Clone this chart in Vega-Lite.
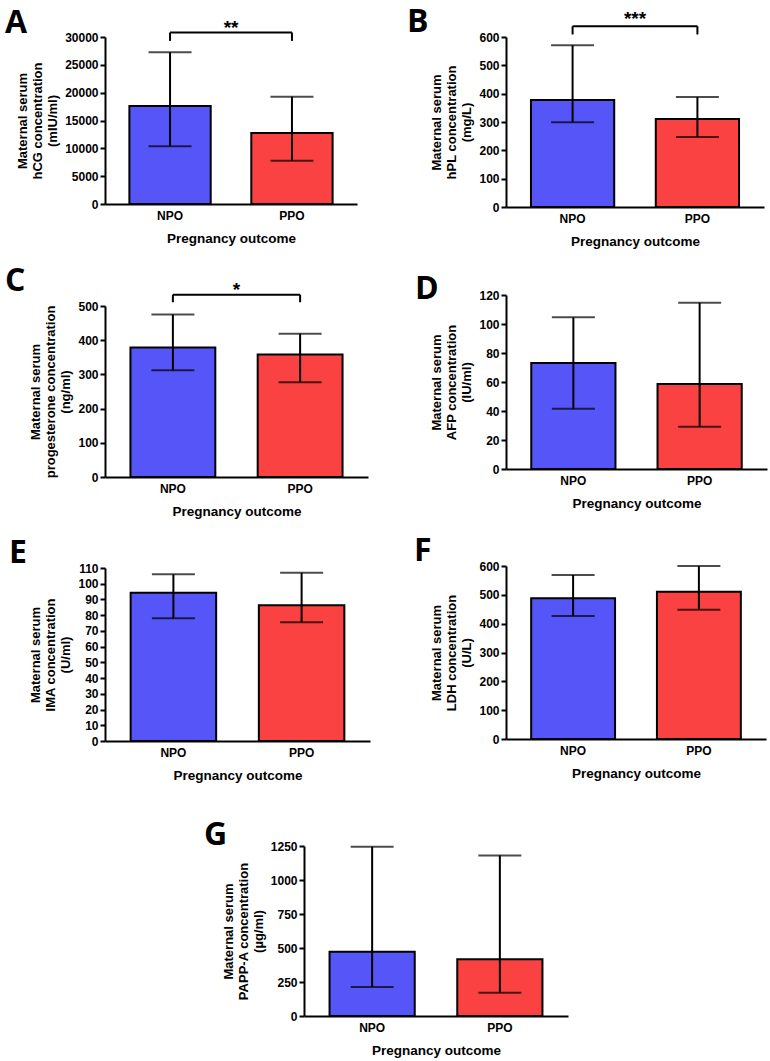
{
  "$schema": "https://vega.github.io/schema/vega-lite/v6.json",
  "background": "white",
  "padding": {"left": 5, "top": 6, "right": 2, "bottom": 2},
  "datasets": {
    "bars": [
      {"panel": "A", "group": "NPO", "mean": 17600, "lo": 10360, "hi": 27250},
      {"panel": "A", "group": "PPO", "mean": 12750, "lo": 7780, "hi": 19280},
      {"panel": "B", "group": "NPO", "mean": 378, "lo": 299, "hi": 571},
      {"panel": "B", "group": "PPO", "mean": 311, "lo": 247, "hi": 388},
      {"panel": "C", "group": "NPO", "mean": 379, "lo": 312, "hi": 475},
      {"panel": "C", "group": "PPO", "mean": 358, "lo": 277, "hi": 419},
      {"panel": "D", "group": "NPO", "mean": 73.1, "lo": 41.6, "hi": 104.6},
      {"panel": "D", "group": "PPO", "mean": 58.6, "lo": 29.2, "hi": 114.7},
      {"panel": "E", "group": "NPO", "mean": 94.3, "lo": 78, "hi": 106},
      {"panel": "E", "group": "PPO", "mean": 86.3, "lo": 75.5, "hi": 107},
      {"panel": "F", "group": "NPO", "mean": 488, "lo": 427, "hi": 569},
      {"panel": "F", "group": "PPO", "mean": 511, "lo": 448, "hi": 600},
      {"panel": "G", "group": "NPO", "mean": 473, "lo": 213, "hi": 1245},
      {"panel": "G", "group": "PPO", "mean": 417, "lo": 171, "hi": 1181}
    ],
    "brackets": [
      {"panel": "A", "from": "NPO", "to": "PPO", "top": 30800, "bottom": 29300, "label": "**"},
      {"panel": "B", "from": "NPO", "to": "PPO", "top": 638, "bottom": 609, "label": "***"},
      {"panel": "C", "from": "NPO", "to": "PPO", "top": 533, "bottom": 511, "label": "*"}
    ]
  },
  "config": {
    "font": "Liberation Sans",
    "view": {"stroke": null},
    "axis": {
      "grid": false,
      "domainColor": "black",
      "domainWidth": 2,
      "tickColor": "black",
      "tickWidth": 2,
      "tickSize": 5,
      "labelFont": "Liberation Sans",
      "labelFontWeight": "bold",
      "labelFontSize": 12,
      "labelColor": "black",
      "titleFont": "Liberation Sans",
      "titleFontWeight": "bold",
      "titleFontSize": 13,
      "titleColor": "black",
      "titleLineHeight": 15
    },
    "axisX": {"labelAngle": 0, "ticks": false, "labelPadding": 6, "titlePadding": 10, "titleFontSize": 13.5},
    "axisY": {"labelPadding": 2, "titlePadding": 5, "labelOverlap": false},
    "title": {"anchor": "start", "frame": "group", "font": "Open Sans", "fontSize": 32, "fontWeight": "bold", "color": "black"}
  },
  "vconcat": [
    {
      "hconcat": [
        {
          "vconcat": [
            {
              "title": {"text": "A", "dx": -100, "offset": -21},
              "width": 252, "height": 167,
              "layer": [
                {"data": {"name": "bars"}, "transform": [{"filter": "datum.panel==='A'"}],
                 "mark": {"type": "bar", "stroke": "black", "strokeWidth": 2},
                 "encoding": {
                   "x": {"field": "group", "type": "nominal", "scale": {"domain": ["NPO", "PPO"], "paddingInner": 0.333, "paddingOuter": 0.2}, "axis": {"title": "Pregnancy outcome"}},
                   "y": {"field": "mean", "type": "quantitative", "scale": {"domain": [0, 30000], "nice": false}, "axis": {"title": ["Maternal serum", "hCG concentration", "(mIU/ml)"], "values": [0, 5000, 10000, 15000, 20000, 25000, 30000], "format": "d", "labelOverlap": false}},
                   "color": {"field": "group", "type": "nominal", "scale": {"domain": ["NPO", "PPO"], "range": ["#5656F8", "#FA4242"]}, "legend": null}
                 }},
                {"data": {"name": "bars"}, "transform": [{"filter": "datum.panel==='A'"}],
                 "mark": {"type": "rule", "strokeWidth": 2, "color": "black"},
                 "encoding": {"x": {"field": "group", "type": "nominal"}, "y": {"field": "lo", "type": "quantitative", "axis": {"title": ["Maternal serum", "hCG concentration", "(mIU/ml)"], "values": [0, 5000, 10000, 15000, 20000, 25000, 30000], "format": "d", "labelOverlap": false}}, "y2": {"field": "hi"}}},
                {"data": {"name": "bars"}, "transform": [{"filter": "datum.panel==='A'"}],
                 "mark": {"type": "tick", "size": 43, "thickness": 2, "color": "black"},
                 "encoding": {"x": {"field": "group", "type": "nominal"}, "y": {"field": "lo", "type": "quantitative", "axis": {"title": ["Maternal serum", "hCG concentration", "(mIU/ml)"], "values": [0, 5000, 10000, 15000, 20000, 25000, 30000], "format": "d", "labelOverlap": false}}}},
                {"data": {"name": "bars"}, "transform": [{"filter": "datum.panel==='A'"}],
                 "mark": {"type": "tick", "size": 43, "thickness": 2, "color": "black"},
                 "encoding": {"x": {"field": "group", "type": "nominal"}, "y": {"field": "hi", "type": "quantitative", "axis": {"title": ["Maternal serum", "hCG concentration", "(mIU/ml)"], "values": [0, 5000, 10000, 15000, 20000, 25000, 30000], "format": "d", "labelOverlap": false}}}},
                {"data": {"name": "brackets"}, "transform": [{"filter": "datum.panel==='A'"}],
                 "mark": {"type": "rule", "strokeWidth": 2, "color": "black"},
                 "encoding": {"x": {"field": "from", "type": "nominal"}, "x2": {"field": "to"}, "y": {"field": "top", "type": "quantitative", "axis": {"title": ["Maternal serum", "hCG concentration", "(mIU/ml)"], "values": [0, 5000, 10000, 15000, 20000, 25000, 30000], "format": "d", "labelOverlap": false}}}},
                {"data": {"name": "brackets"}, "transform": [{"filter": "datum.panel==='A'"}],
                 "mark": {"type": "rule", "strokeWidth": 2, "color": "black"},
                 "encoding": {"x": {"field": "from", "type": "nominal"}, "y": {"field": "top", "type": "quantitative", "axis": {"title": ["Maternal serum", "hCG concentration", "(mIU/ml)"], "values": [0, 5000, 10000, 15000, 20000, 25000, 30000], "format": "d", "labelOverlap": false}}, "y2": {"field": "bottom"}}},
                {"data": {"name": "brackets"}, "transform": [{"filter": "datum.panel==='A'"}],
                 "mark": {"type": "rule", "strokeWidth": 2, "color": "black"},
                 "encoding": {"x": {"field": "to", "type": "nominal"}, "y": {"field": "top", "type": "quantitative", "axis": {"title": ["Maternal serum", "hCG concentration", "(mIU/ml)"], "values": [0, 5000, 10000, 15000, 20000, 25000, 30000], "format": "d", "labelOverlap": false}}, "y2": {"field": "bottom"}}},
                {"data": {"name": "brackets"}, "transform": [{"filter": "datum.panel==='A'"}],
                 "mark": {"type": "text", "baseline": "alphabetic", "fontSize": 19, "fontWeight": "bold", "font": "Liberation Sans", "color": "black", "dy": 1},
                 "encoding": {"x": {"field": "from", "type": "nominal", "bandPosition": 1.25}, "y": {"field": "top", "type": "quantitative", "axis": {"title": ["Maternal serum", "hCG concentration", "(mIU/ml)"], "values": [0, 5000, 10000, 15000, 20000, 25000, 30000], "format": "d", "labelOverlap": false}}, "text": {"field": "label"}}}
              ]
            },
            {
              "title": {"text": "C", "dx": -100, "offset": -17},
              "width": 263, "height": 171,
              "layer": [
                {"data": {"name": "bars"}, "transform": [{"filter": "datum.panel==='C'"}],
                 "mark": {"type": "bar", "stroke": "black", "strokeWidth": 2},
                 "encoding": {
                   "x": {"field": "group", "type": "nominal", "scale": {"domain": ["NPO", "PPO"], "paddingInner": 0.333, "paddingOuter": 0.2}, "axis": {"title": "Pregnancy outcome"}},
                   "y": {"field": "mean", "type": "quantitative", "scale": {"domain": [0, 500], "nice": false}, "axis": {"title": ["Maternal serum", "progesterone concentration", "(ng/ml)"], "values": [0, 100, 200, 300, 400, 500], "labelOverlap": false}},
                   "color": {"field": "group", "type": "nominal", "scale": {"domain": ["NPO", "PPO"], "range": ["#5656F8", "#FA4242"]}, "legend": null}
                 }},
                {"data": {"name": "bars"}, "transform": [{"filter": "datum.panel==='C'"}],
                 "mark": {"type": "rule", "strokeWidth": 2, "color": "black"},
                 "encoding": {"x": {"field": "group", "type": "nominal"}, "y": {"field": "lo", "type": "quantitative", "axis": {"title": ["Maternal serum", "progesterone concentration", "(ng/ml)"], "values": [0, 100, 200, 300, 400, 500], "labelOverlap": false}}, "y2": {"field": "hi"}}},
                {"data": {"name": "bars"}, "transform": [{"filter": "datum.panel==='C'"}],
                 "mark": {"type": "tick", "size": 43, "thickness": 2, "color": "black"},
                 "encoding": {"x": {"field": "group", "type": "nominal"}, "y": {"field": "lo", "type": "quantitative", "axis": {"title": ["Maternal serum", "progesterone concentration", "(ng/ml)"], "values": [0, 100, 200, 300, 400, 500], "labelOverlap": false}}}},
                {"data": {"name": "bars"}, "transform": [{"filter": "datum.panel==='C'"}],
                 "mark": {"type": "tick", "size": 43, "thickness": 2, "color": "black"},
                 "encoding": {"x": {"field": "group", "type": "nominal"}, "y": {"field": "hi", "type": "quantitative", "axis": {"title": ["Maternal serum", "progesterone concentration", "(ng/ml)"], "values": [0, 100, 200, 300, 400, 500], "labelOverlap": false}}}},
                {"data": {"name": "brackets"}, "transform": [{"filter": "datum.panel==='C'"}],
                 "mark": {"type": "rule", "strokeWidth": 2, "color": "black"},
                 "encoding": {"x": {"field": "from", "type": "nominal"}, "x2": {"field": "to"}, "y": {"field": "top", "type": "quantitative", "axis": {"title": ["Maternal serum", "progesterone concentration", "(ng/ml)"], "values": [0, 100, 200, 300, 400, 500], "labelOverlap": false}}}},
                {"data": {"name": "brackets"}, "transform": [{"filter": "datum.panel==='C'"}],
                 "mark": {"type": "rule", "strokeWidth": 2, "color": "black"},
                 "encoding": {"x": {"field": "from", "type": "nominal"}, "y": {"field": "top", "type": "quantitative", "axis": {"title": ["Maternal serum", "progesterone concentration", "(ng/ml)"], "values": [0, 100, 200, 300, 400, 500], "labelOverlap": false}}, "y2": {"field": "bottom"}}},
                {"data": {"name": "brackets"}, "transform": [{"filter": "datum.panel==='C'"}],
                 "mark": {"type": "rule", "strokeWidth": 2, "color": "black"},
                 "encoding": {"x": {"field": "to", "type": "nominal"}, "y": {"field": "top", "type": "quantitative", "axis": {"title": ["Maternal serum", "progesterone concentration", "(ng/ml)"], "values": [0, 100, 200, 300, 400, 500], "labelOverlap": false}}, "y2": {"field": "bottom"}}},
                {"data": {"name": "brackets"}, "transform": [{"filter": "datum.panel==='C'"}],
                 "mark": {"type": "text", "baseline": "alphabetic", "fontSize": 19, "fontWeight": "bold", "font": "Liberation Sans", "color": "black", "dy": 1},
                 "encoding": {"x": {"field": "from", "type": "nominal", "bandPosition": 1.25}, "y": {"field": "top", "type": "quantitative", "axis": {"title": ["Maternal serum", "progesterone concentration", "(ng/ml)"], "values": [0, 100, 200, 300, 400, 500], "labelOverlap": false}}, "text": {"field": "label"}}}
              ]
            },
            {
              "title": {"text": "E", "dx": -96, "offset": -8},
              "width": 265, "height": 173,
              "layer": [
                {"data": {"name": "bars"}, "transform": [{"filter": "datum.panel==='E'"}],
                 "mark": {"type": "bar", "stroke": "black", "strokeWidth": 2},
                 "encoding": {
                   "x": {"field": "group", "type": "nominal", "scale": {"domain": ["NPO", "PPO"], "paddingInner": 0.333, "paddingOuter": 0.2}, "axis": {"title": "Pregnancy outcome"}},
                   "y": {"field": "mean", "type": "quantitative", "scale": {"domain": [0, 110], "nice": false}, "axis": {"title": ["Maternal serum", "IMA concentration", "(U/ml)"], "values": [0, 10, 20, 30, 40, 50, 60, 70, 80, 90, 100, 110], "labelOverlap": false}},
                   "color": {"field": "group", "type": "nominal", "scale": {"domain": ["NPO", "PPO"], "range": ["#5656F8", "#FA4242"]}, "legend": null}
                 }},
                {"data": {"name": "bars"}, "transform": [{"filter": "datum.panel==='E'"}],
                 "mark": {"type": "rule", "strokeWidth": 2, "color": "black"},
                 "encoding": {"x": {"field": "group", "type": "nominal"}, "y": {"field": "lo", "type": "quantitative", "axis": {"title": ["Maternal serum", "IMA concentration", "(U/ml)"], "values": [0, 10, 20, 30, 40, 50, 60, 70, 80, 90, 100, 110], "labelOverlap": false}}, "y2": {"field": "hi"}}},
                {"data": {"name": "bars"}, "transform": [{"filter": "datum.panel==='E'"}],
                 "mark": {"type": "tick", "size": 43, "thickness": 2, "color": "black"},
                 "encoding": {"x": {"field": "group", "type": "nominal"}, "y": {"field": "lo", "type": "quantitative", "axis": {"title": ["Maternal serum", "IMA concentration", "(U/ml)"], "values": [0, 10, 20, 30, 40, 50, 60, 70, 80, 90, 100, 110], "labelOverlap": false}}}},
                {"data": {"name": "bars"}, "transform": [{"filter": "datum.panel==='E'"}],
                 "mark": {"type": "tick", "size": 43, "thickness": 2, "color": "black"},
                 "encoding": {"x": {"field": "group", "type": "nominal"}, "y": {"field": "hi", "type": "quantitative", "axis": {"title": ["Maternal serum", "IMA concentration", "(U/ml)"], "values": [0, 10, 20, 30, 40, 50, 60, 70, 80, 90, 100, 110], "labelOverlap": false}}}}
              ]
            }
          ],
          "spacing": 19
        },
        {
          "vconcat": [
            {
              "title": {"text": "B", "dx": -99, "offset": -29},
              "width": 258, "height": 170,
              "layer": [
                {"data": {"name": "bars"}, "transform": [{"filter": "datum.panel==='B'"}],
                 "mark": {"type": "bar", "stroke": "black", "strokeWidth": 2},
                 "encoding": {
                   "x": {"field": "group", "type": "nominal", "scale": {"domain": ["NPO", "PPO"], "paddingInner": 0.333, "paddingOuter": 0.2}, "axis": {"title": "Pregnancy outcome"}},
                   "y": {"field": "mean", "type": "quantitative", "scale": {"domain": [0, 600], "nice": false}, "axis": {"title": ["Maternal serum", "hPL concentration", "(mg/L)"], "values": [0, 100, 200, 300, 400, 500, 600], "labelOverlap": false}},
                   "color": {"field": "group", "type": "nominal", "scale": {"domain": ["NPO", "PPO"], "range": ["#5656F8", "#FA4242"]}, "legend": null}
                 }},
                {"data": {"name": "bars"}, "transform": [{"filter": "datum.panel==='B'"}],
                 "mark": {"type": "rule", "strokeWidth": 2, "color": "black"},
                 "encoding": {"x": {"field": "group", "type": "nominal"}, "y": {"field": "lo", "type": "quantitative", "axis": {"title": ["Maternal serum", "hPL concentration", "(mg/L)"], "values": [0, 100, 200, 300, 400, 500, 600], "labelOverlap": false}}, "y2": {"field": "hi"}}},
                {"data": {"name": "bars"}, "transform": [{"filter": "datum.panel==='B'"}],
                 "mark": {"type": "tick", "size": 43, "thickness": 2, "color": "black"},
                 "encoding": {"x": {"field": "group", "type": "nominal"}, "y": {"field": "lo", "type": "quantitative", "axis": {"title": ["Maternal serum", "hPL concentration", "(mg/L)"], "values": [0, 100, 200, 300, 400, 500, 600], "labelOverlap": false}}}},
                {"data": {"name": "bars"}, "transform": [{"filter": "datum.panel==='B'"}],
                 "mark": {"type": "tick", "size": 43, "thickness": 2, "color": "black"},
                 "encoding": {"x": {"field": "group", "type": "nominal"}, "y": {"field": "hi", "type": "quantitative", "axis": {"title": ["Maternal serum", "hPL concentration", "(mg/L)"], "values": [0, 100, 200, 300, 400, 500, 600], "labelOverlap": false}}}},
                {"data": {"name": "brackets"}, "transform": [{"filter": "datum.panel==='B'"}],
                 "mark": {"type": "rule", "strokeWidth": 2, "color": "black"},
                 "encoding": {"x": {"field": "from", "type": "nominal"}, "x2": {"field": "to"}, "y": {"field": "top", "type": "quantitative", "axis": {"title": ["Maternal serum", "hPL concentration", "(mg/L)"], "values": [0, 100, 200, 300, 400, 500, 600], "labelOverlap": false}}}},
                {"data": {"name": "brackets"}, "transform": [{"filter": "datum.panel==='B'"}],
                 "mark": {"type": "rule", "strokeWidth": 2, "color": "black"},
                 "encoding": {"x": {"field": "from", "type": "nominal"}, "y": {"field": "top", "type": "quantitative", "axis": {"title": ["Maternal serum", "hPL concentration", "(mg/L)"], "values": [0, 100, 200, 300, 400, 500, 600], "labelOverlap": false}}, "y2": {"field": "bottom"}}},
                {"data": {"name": "brackets"}, "transform": [{"filter": "datum.panel==='B'"}],
                 "mark": {"type": "rule", "strokeWidth": 2, "color": "black"},
                 "encoding": {"x": {"field": "to", "type": "nominal"}, "y": {"field": "top", "type": "quantitative", "axis": {"title": ["Maternal serum", "hPL concentration", "(mg/L)"], "values": [0, 100, 200, 300, 400, 500, 600], "labelOverlap": false}}, "y2": {"field": "bottom"}}},
                {"data": {"name": "brackets"}, "transform": [{"filter": "datum.panel==='B'"}],
                 "mark": {"type": "text", "baseline": "alphabetic", "fontSize": 19, "fontWeight": "bold", "font": "Liberation Sans", "color": "black", "dy": -1},
                 "encoding": {"x": {"field": "from", "type": "nominal", "bandPosition": 1.25}, "y": {"field": "top", "type": "quantitative", "axis": {"title": ["Maternal serum", "hPL concentration", "(mg/L)"], "values": [0, 100, 200, 300, 400, 500, 600], "labelOverlap": false}}, "text": {"field": "label"}}}
              ]
            },
            {
              "title": {"text": "D", "dx": -91, "offset": -17},
              "width": 261, "height": 174,
              "layer": [
                {"data": {"name": "bars"}, "transform": [{"filter": "datum.panel==='D'"}],
                 "mark": {"type": "bar", "stroke": "black", "strokeWidth": 2},
                 "encoding": {
                   "x": {"field": "group", "type": "nominal", "scale": {"domain": ["NPO", "PPO"], "paddingInner": 0.333, "paddingOuter": 0.2}, "axis": {"title": "Pregnancy outcome"}},
                   "y": {"field": "mean", "type": "quantitative", "scale": {"domain": [0, 120], "nice": false}, "axis": {"title": ["Maternal serum", "AFP concentration", "(IU/ml)"], "values": [0, 20, 40, 60, 80, 100, 120], "labelOverlap": false}},
                   "color": {"field": "group", "type": "nominal", "scale": {"domain": ["NPO", "PPO"], "range": ["#5656F8", "#FA4242"]}, "legend": null}
                 }},
                {"data": {"name": "bars"}, "transform": [{"filter": "datum.panel==='D'"}],
                 "mark": {"type": "rule", "strokeWidth": 2, "color": "black"},
                 "encoding": {"x": {"field": "group", "type": "nominal"}, "y": {"field": "lo", "type": "quantitative", "axis": {"title": ["Maternal serum", "AFP concentration", "(IU/ml)"], "values": [0, 20, 40, 60, 80, 100, 120], "labelOverlap": false}}, "y2": {"field": "hi"}}},
                {"data": {"name": "bars"}, "transform": [{"filter": "datum.panel==='D'"}],
                 "mark": {"type": "tick", "size": 43, "thickness": 2, "color": "black"},
                 "encoding": {"x": {"field": "group", "type": "nominal"}, "y": {"field": "lo", "type": "quantitative", "axis": {"title": ["Maternal serum", "AFP concentration", "(IU/ml)"], "values": [0, 20, 40, 60, 80, 100, 120], "labelOverlap": false}}}},
                {"data": {"name": "bars"}, "transform": [{"filter": "datum.panel==='D'"}],
                 "mark": {"type": "tick", "size": 43, "thickness": 2, "color": "black"},
                 "encoding": {"x": {"field": "group", "type": "nominal"}, "y": {"field": "hi", "type": "quantitative", "axis": {"title": ["Maternal serum", "AFP concentration", "(IU/ml)"], "values": [0, 20, 40, 60, 80, 100, 120], "labelOverlap": false}}}}
              ]
            },
            {
              "title": {"text": "F", "dx": -92, "offset": -8},
              "width": 260, "height": 173,
              "layer": [
                {"data": {"name": "bars"}, "transform": [{"filter": "datum.panel==='F'"}],
                 "mark": {"type": "bar", "stroke": "black", "strokeWidth": 2},
                 "encoding": {
                   "x": {"field": "group", "type": "nominal", "scale": {"domain": ["NPO", "PPO"], "paddingInner": 0.333, "paddingOuter": 0.2}, "axis": {"title": "Pregnancy outcome"}},
                   "y": {"field": "mean", "type": "quantitative", "scale": {"domain": [0, 600], "nice": false}, "axis": {"title": ["Maternal serum", "LDH concentration", "(U/L)"], "values": [0, 100, 200, 300, 400, 500, 600], "labelOverlap": false}},
                   "color": {"field": "group", "type": "nominal", "scale": {"domain": ["NPO", "PPO"], "range": ["#5656F8", "#FA4242"]}, "legend": null}
                 }},
                {"data": {"name": "bars"}, "transform": [{"filter": "datum.panel==='F'"}],
                 "mark": {"type": "rule", "strokeWidth": 2, "color": "black"},
                 "encoding": {"x": {"field": "group", "type": "nominal"}, "y": {"field": "lo", "type": "quantitative", "axis": {"title": ["Maternal serum", "LDH concentration", "(U/L)"], "values": [0, 100, 200, 300, 400, 500, 600], "labelOverlap": false}}, "y2": {"field": "hi"}}},
                {"data": {"name": "bars"}, "transform": [{"filter": "datum.panel==='F'"}],
                 "mark": {"type": "tick", "size": 43, "thickness": 2, "color": "black"},
                 "encoding": {"x": {"field": "group", "type": "nominal"}, "y": {"field": "lo", "type": "quantitative", "axis": {"title": ["Maternal serum", "LDH concentration", "(U/L)"], "values": [0, 100, 200, 300, 400, 500, 600], "labelOverlap": false}}}},
                {"data": {"name": "bars"}, "transform": [{"filter": "datum.panel==='F'"}],
                 "mark": {"type": "tick", "size": 43, "thickness": 2, "color": "black"},
                 "encoding": {"x": {"field": "group", "type": "nominal"}, "y": {"field": "hi", "type": "quantitative", "axis": {"title": ["Maternal serum", "LDH concentration", "(U/L)"], "values": [0, 100, 200, 300, 400, 500, 600], "labelOverlap": false}}}}
              ]
            }
          ],
          "spacing": 25
        }
      ],
      "spacing": 37
    },
    {
      "title": {"text": "G", "dx": -100, "offset": -12},
      "width": 264, "height": 170,
      "layer": [
        {"data": {"name": "bars"}, "transform": [{"filter": "datum.panel==='G'"}],
         "mark": {"type": "bar", "stroke": "black", "strokeWidth": 2},
         "encoding": {
           "x": {"field": "group", "type": "nominal", "scale": {"domain": ["NPO", "PPO"], "paddingInner": 0.333, "paddingOuter": 0.2}, "axis": {"title": "Pregnancy outcome"}},
           "y": {"field": "mean", "type": "quantitative", "scale": {"domain": [0, 1250], "nice": false}, "axis": {"title": ["Maternal serum", "PAPP-A concentration", "(µg/ml)"], "values": [0, 250, 500, 750, 1000, 1250], "format": "d", "labelOverlap": false}},
           "color": {"field": "group", "type": "nominal", "scale": {"domain": ["NPO", "PPO"], "range": ["#5656F8", "#FA4242"]}, "legend": null}
         }},
        {"data": {"name": "bars"}, "transform": [{"filter": "datum.panel==='G'"}],
         "mark": {"type": "rule", "strokeWidth": 2, "color": "black"},
         "encoding": {"x": {"field": "group", "type": "nominal"}, "y": {"field": "lo", "type": "quantitative", "axis": {"title": ["Maternal serum", "PAPP-A concentration", "(µg/ml)"], "values": [0, 250, 500, 750, 1000, 1250], "format": "d", "labelOverlap": false}}, "y2": {"field": "hi"}}},
        {"data": {"name": "bars"}, "transform": [{"filter": "datum.panel==='G'"}],
         "mark": {"type": "tick", "size": 43, "thickness": 2, "color": "black"},
         "encoding": {"x": {"field": "group", "type": "nominal"}, "y": {"field": "lo", "type": "quantitative", "axis": {"title": ["Maternal serum", "PAPP-A concentration", "(µg/ml)"], "values": [0, 250, 500, 750, 1000, 1250], "format": "d", "labelOverlap": false}}}},
        {"data": {"name": "bars"}, "transform": [{"filter": "datum.panel==='G'"}],
         "mark": {"type": "tick", "size": 43, "thickness": 2, "color": "black"},
         "encoding": {"x": {"field": "group", "type": "nominal"}, "y": {"field": "hi", "type": "quantitative", "axis": {"title": ["Maternal serum", "PAPP-A concentration", "(µg/ml)"], "values": [0, 250, 500, 750, 1000, 1250], "format": "d", "labelOverlap": false}}}}
      ]
    }
  ],
  "spacing": 37,
  "center": true
}
